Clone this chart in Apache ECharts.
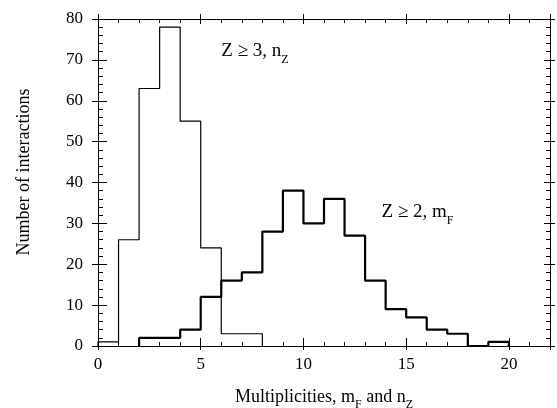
<!DOCTYPE html>
<html>
<head>
<meta charset="utf-8">
<script src="https://cdn.jsdelivr.net/npm/echarts@6/dist/echarts.min.js"></script>
<style>
  html, body { margin: 0; padding: 0; background: #fff; }
  #chart { width: 557px; height: 408px; }
</style>
</head>
<body>
<div id="chart"></div>
<script>
// Histogram bin counts (unit-width bins); each array starts at its first bin edge.
const nzStart = 0;
const nzCounts = [1, 26, 63, 78, 55, 24, 3, 3];            // Z >= 3, n_Z
const mfStart = 2;
const mfCounts = [2, 2, 4, 12, 16, 18, 28, 38, 30, 36, 27, 16, 9, 7, 4, 3, 0, 1]; // Z >= 2, m_F

const xMajorTicks = [0, 5, 10, 15, 20];
const yMajorTicks = [0, 10, 20, 30, 40, 50, 60, 70, 80];
const xRange = [0, 22];
const yRange = [0, 80];

// Turn bin counts into the outline of a step histogram.
function outline(start, counts) {
  const pts = [[start, 0]];
  counts.forEach((c, i) => {
    pts.push([start + i, c]);
    pts.push([start + i + 1, c]);
  });
  pts.push([start + counts.length, 0]);
  return pts;
}

const FONT = 'Liberation Serif';
const black = '#000';

function xAxisDef(pos, opts) {
  return Object.assign({
    type: 'value', position: pos, min: xRange[0], max: xRange[1],
    axisLine: { show: false, onZero: false, lineStyle: { color: black, width: 1 } },
    axisTick: { show: true, inside: true, length: 4, lineStyle: { color: black, width: 1 } },
    axisLabel: { show: false },
    splitLine: { show: false }
  }, opts);
}
function yAxisDef(pos, opts) {
  return Object.assign({
    type: 'value', position: pos, min: yRange[0], max: yRange[1],
    axisLine: { show: false, onZero: false, lineStyle: { color: black, width: 1 } },
    axisTick: { show: true, inside: true, length: 4, lineStyle: { color: black, width: 1 } },
    axisLabel: { show: false },
    splitLine: { show: false }
  }, opts);
}

const chart = echarts.init(document.getElementById('chart'), null, { renderer: 'canvas' });

const option = {
  animation: false,
  backgroundColor: '#fff',
  grid: { left: 98, right: 7, top: 19, bottom: 62, containLabel: false },
  xAxis: [
    // bottom: labelled major ticks (inside), frame line
    xAxisDef('bottom', {
      interval: 5,
      axisLine: { show: true, onZero: false, lineStyle: { color: black, width: 1 } },
      axisTick: { show: true, inside: true, length: 8, lineStyle: { color: black, width: 1 } },
      axisLabel: {
        show: true, margin: 10, color: black, fontFamily: FONT, fontSize: 17,
        showMaxLabel: false,
        formatter: v => (xMajorTicks.indexOf(v) >= 0 ? String(v) : '')
      }
    }),
    // bottom: major ticks poking outside
    xAxisDef('bottom', { interval: 5, axisTick: { show: true, inside: false, length: 4, lineStyle: { color: black, width: 1 } } }),
    // bottom: unit minor ticks
    xAxisDef('bottom', { interval: 1 }),
    // top frame
    xAxisDef('top', {
      interval: 5,
      axisLine: { show: true, onZero: false, lineStyle: { color: black, width: 1 } },
      axisTick: { show: true, inside: true, length: 5, lineStyle: { color: black, width: 1 } }
    }),
    xAxisDef('top', { interval: 5, axisTick: { show: true, inside: false, length: 5, lineStyle: { color: black, width: 1 } } }),
    xAxisDef('top', { interval: 1 })
  ],
  yAxis: [
    yAxisDef('left', {
      interval: 10,
      axisLine: { show: true, onZero: false, lineStyle: { color: black, width: 1 } },
      axisTick: { show: true, inside: true, length: 9, lineStyle: { color: black, width: 1 } },
      axisLabel: {
        show: true, margin: 15, color: black, fontFamily: FONT, fontSize: 17,
        formatter: v => (yMajorTicks.indexOf(v) >= 0 ? String(v) : '')
      }
    }),
    yAxisDef('left', { interval: 10, axisTick: { show: true, inside: false, length: 6, lineStyle: { color: black, width: 1 } } }),
    yAxisDef('left', { interval: 2, axisTick: { show: true, inside: true, length: 5, lineStyle: { color: black, width: 1 } } }),
    // right frame
    yAxisDef('right', {
      interval: 10,
      axisLine: { show: true, onZero: false, lineStyle: { color: black, width: 1 } },
      axisTick: { show: true, inside: true, length: 6, lineStyle: { color: black, width: 1 } }
    }),
    yAxisDef('right', { interval: 10, axisTick: { show: true, inside: false, length: 5, lineStyle: { color: black, width: 1 } } }),
    yAxisDef('right', { interval: 2 })
  ],
  series: [
    {
      name: 'Z ≥ 3, n_Z', type: 'line', xAxisIndex: 0, yAxisIndex: 0,
      data: outline(nzStart, nzCounts), showSymbol: false, symbol: 'none',
      lineStyle: { color: black, width: 1.2 }, z: 3
    },
    {
      name: 'Z ≥ 2, m_F', type: 'line', xAxisIndex: 0, yAxisIndex: 0,
      data: outline(mfStart, mfCounts), showSymbol: false, symbol: 'none',
      lineStyle: { color: black, width: 2.2 }, z: 4
    }
  ]
};
chart.setOption(option);

// Rich-text styles for labels with subscripts.
function richStyles(size) {
  const sub = Math.round(size * 0.65);
  return {
    t: { fontFamily: FONT, fontSize: size, color: black, lineHeight: size + 3, verticalAlign: 'top' },
    s: { fontFamily: FONT, fontSize: sub, color: black, lineHeight: sub, verticalAlign: 'top', padding: [Math.round(size * 0.62), 0, 0, 0] }
  };
}
function toPx(x, y) { return chart.convertToPixel({ xAxisIndex: 0, yAxisIndex: 0 }, [x, y]); }
const a1 = toPx(6.0, 74.5);
const a2 = toPx(13.8, 35);
const plotMidX = toPx((xRange[0] + xRange[1]) / 2, 0)[0];
chart.setOption({
  graphic: [
    {
      type: 'text', x: plotMidX, y: 388,
      style: { text: '{t|Multiplicities, m}{s|F}{t| and n}{s|Z}', rich: richStyles(18), align: 'center' }
    },
    {
      type: 'text', x: 24, y: 172, rotation: Math.PI / 2,
      style: { text: 'Number of interactions', fontFamily: FONT, fontSize: 18, fill: black, align: 'center', verticalAlign: 'middle' }
    },
    {
      type: 'text', x: a1[0], y: a1[1],
      style: { text: '{t|Z ≥ 3, n}{s|Z}', rich: richStyles(19) }
    },
    {
      type: 'text', x: a2[0], y: a2[1],
      style: { text: '{t|Z ≥ 2, m}{s|F}', rich: richStyles(19) }
    }
  ]
});
</script>
</body>
</html>
